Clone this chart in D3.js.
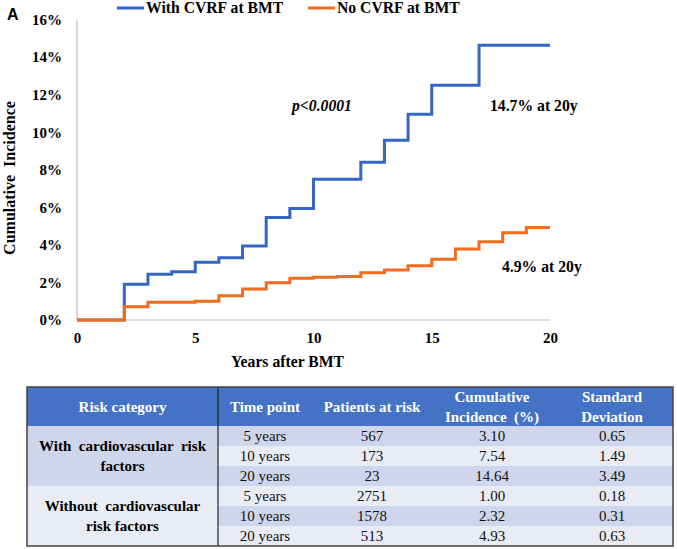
<!DOCTYPE html>
<html><head><meta charset="utf-8">
<script src="https://cdn.jsdelivr.net/npm/d3@7"></script>
<style>
html,body{margin:0;padding:0;background:#fff;}
svg{display:block;}
</style></head>
<body>
<svg id="c" width="677" height="549"></svg>
<script>
// ---- data ----
const years = [0,1,2,3,4,5,6,7,8,9,10,11,12,13,14,15,16,17,18,19,20];
const withCVRF = [0,0,1.9,2.43,2.57,3.07,3.31,3.94,5.46,5.94,7.5,7.5,8.4,9.57,10.96,12.5,12.5,14.63,14.63,14.63,14.63];
const noCVRF = [0,0,0.71,0.94,0.94,1.0,1.29,1.65,1.99,2.22,2.28,2.31,2.52,2.66,2.89,3.23,3.78,4.17,4.65,4.93,4.93];
const seriesNames = ["With CVRF at BMT","No CVRF at BMT"];
const yTicks = [0,2,4,6,8,10,12,14,16];
const xTicks = [0,5,10,15,20];

const tableHeaders = [["Risk category"],["Time point"],["Patients at risk"],["Cumulative","Incidence  (%)"],["Standard","Deviation"]];
const groups = [["With  cardiovascular  risk","factors"],["Without  cardiovascular","risk factors"]];
const timePoints = ["5 years","10 years","20 years","5 years","10 years","20 years"];
const patientsAtRisk = ["567","173","23","2751","1578","513"];
const cumIncidence = ["3.10","7.54","14.64","1.00","2.32","4.93"];
const stdDev = ["0.65","1.49","3.49","0.18","0.31","0.63"];

// ---- chart ----
const svg = d3.select("#c");
const serif = "'Liberation Serif','Times New Roman',serif";
const x = d3.scaleLinear().domain([0,20]).range([77,550]);
const y = d3.scaleLinear().domain([0,16]).range([320,19.5]);
const blue = "#3566C6", orange = "#F06D1E", axisGrey = "#BFBFBF";
const fs = 15.7;

svg.append("text").attr("x",7).attr("y",20).text("A")
  .attr("font-family","'Liberation Sans',Arial,sans-serif").attr("font-weight","bold").attr("font-size",16);

// axes lines
svg.append("line").attr("x1",x(0)).attr("x2",x(0)).attr("y1",y(16)).attr("y2",y(0)).attr("stroke",axisGrey).attr("stroke-width",1.2);
svg.append("line").attr("x1",x(0)).attr("x2",x(20)).attr("y1",y(0)).attr("y2",y(0)).attr("stroke",axisGrey).attr("stroke-width",1.2);

const yAxis = d3.axisLeft(y).tickValues(yTicks).tickSize(0).tickPadding(15).tickFormat(d=>d+"%");
const gy = svg.append("g").attr("transform",`translate(${x(0)},0)`).call(yAxis);
gy.select(".domain").remove();
gy.selectAll("text").attr("font-family",serif).attr("font-weight","bold").attr("font-size",15).attr("fill","#000");

const xAxis = d3.axisBottom(x).tickValues(xTicks).tickSize(0).tickPadding(12).tickFormat(d3.format("d"));
const gx = svg.append("g").attr("transform",`translate(0,${y(0)})`).call(xAxis);
gx.select(".domain").remove();
gx.selectAll("text").attr("font-family",serif).attr("font-weight","bold").attr("font-size",15).attr("fill","#000");

// titles
svg.append("text").attr("x",287.5).attr("y",367).attr("text-anchor","middle")
  .attr("font-family",serif).attr("font-weight","bold").attr("font-size",fs).text("Years after BMT");
svg.append("text").attr("transform","translate(15,178) rotate(-90)").attr("text-anchor","middle")
  .attr("font-family",serif).attr("font-weight","bold").attr("font-size",16)
  .style("white-space","pre").text("Cumulative  Incidence");

// lines
const line = d3.line().x((d,i)=>x(years[i])).y(d=>y(d)).curve(d3.curveStepAfter);
svg.append("path").datum(withCVRF).attr("d",line).attr("fill","none").attr("stroke",blue).attr("stroke-width",3);
svg.append("path").datum(noCVRF).attr("d",line).attr("fill","none").attr("stroke",orange).attr("stroke-width",3);

// legend
const leg = [{n:seriesNames[0],c:blue,x:117},{n:seriesNames[1],c:orange,x:308}];
leg.forEach(l=>{
  svg.append("line").attr("x1",l.x).attr("x2",l.x+27).attr("y1",8).attr("y2",8).attr("stroke",l.c).attr("stroke-width",3);
  svg.append("text").attr("x",l.x+29).attr("y",13).attr("font-family",serif).attr("font-weight","bold").attr("font-size",fs).text(l.n);
});

// annotations
svg.append("text").attr("x",292).attr("y",111).attr("font-family",serif).attr("font-weight","bold").attr("font-style","italic").attr("font-size",fs).text("p<0.0001");
svg.append("text").attr("x",490).attr("y",111).attr("font-family",serif).attr("font-weight","bold").attr("font-size",fs).text("14.7% at 20y");
svg.append("text").attr("x",502).attr("y",272).attr("font-family",serif).attr("font-weight","bold").attr("font-size",fs).text("4.9% at 20y");

// ---- table ----
const tL = 27, tR = 673, tT = 387, hB = 426, rowH = 20, col1R = 218;
const colCenters = [122.5, 265, 372, 492, 612];
const dark = "#CFD5EA", light = "#E9EBF5", head = "#4472C4";

svg.append("rect").attr("x",tL).attr("y",tT).attr("width",tR-tL).attr("height",hB-tT).attr("fill",head);
timePoints.forEach((t,i)=>{
  svg.append("rect").attr("x",col1R).attr("y",hB+i*rowH).attr("width",tR-col1R).attr("height",rowH).attr("fill",i%2===0?dark:light);
});
groups.forEach((g,gi)=>{
  svg.append("rect").attr("x",tL).attr("y",hB+gi*3*rowH).attr("width",col1R-tL).attr("height",3*rowH).attr("fill",gi===0?dark:light);
  const cy = hB+gi*3*rowH+1.5*rowH;
  g.forEach((ln,li)=>{
    svg.append("text").attr("x",colCenters[0]).attr("y",cy-10+li*20+5).attr("text-anchor","middle")
      .attr("font-family",serif).attr("font-weight","bold").attr("font-size",15)
      .style("white-space","pre").text(ln);
  });
});
tableHeaders.forEach((h,hi)=>{
  const cy = (tT+hB)/2;
  h.forEach((ln,li)=>{
    const yy = h.length===1 ? cy+5 : cy-10+li*20+5;
    svg.append("text").attr("x",colCenters[hi]).attr("y",yy).attr("text-anchor","middle")
      .attr("font-family",serif).attr("font-weight","bold").attr("font-size",15).attr("fill","#fff")
      .style("white-space","pre").text(ln);
  });
});
const cols = [timePoints, patientsAtRisk, cumIncidence, stdDev];
cols.forEach((col,ci)=>{
  col.forEach((v,ri)=>{
    svg.append("text").attr("x",colCenters[ci+1]).attr("y",hB+ri*rowH+rowH/2+5).attr("text-anchor","middle")
      .attr("font-family",serif).attr("font-size",15).attr("fill","#111").text(v);
  });
});
svg.append("line").attr("x1",col1R).attr("x2",col1R).attr("y1",tT).attr("y2",hB+6*rowH).attr("stroke","#222").attr("stroke-width",1.2);
svg.append("rect").attr("x",tL).attr("y",tT).attr("width",tR-tL).attr("height",hB+6*rowH-tT).attr("fill","none").attr("stroke","#444").attr("stroke-width",1.5);
</script>
</body></html>
